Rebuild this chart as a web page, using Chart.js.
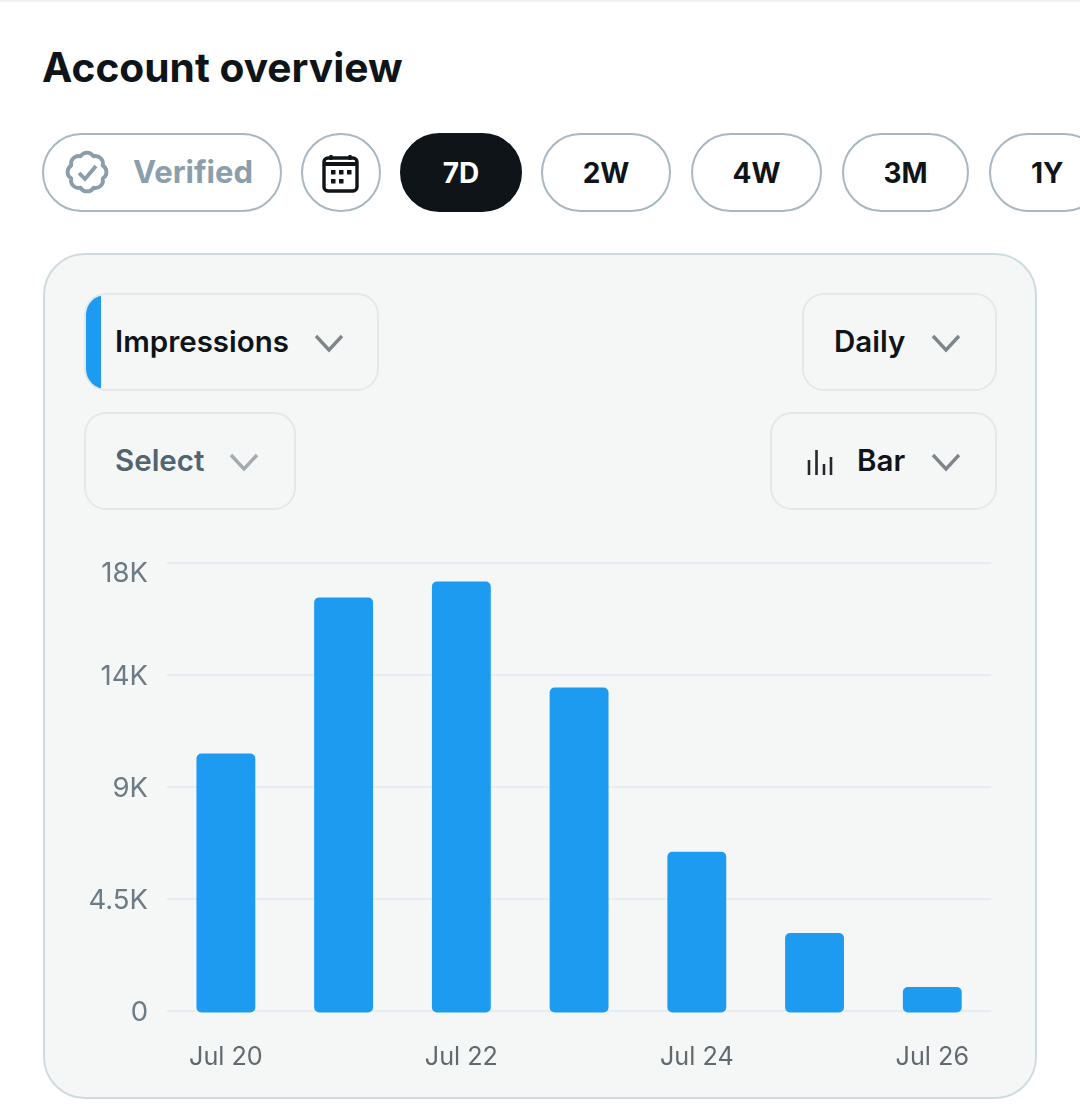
<!DOCTYPE html>
<html><head><meta charset="utf-8">
<script src="https://cdn.jsdelivr.net/npm/chart.js@4"></script>
<style>
html,body{margin:0;padding:0;background:#fff;width:1080px;height:1119px;overflow:hidden;font-family:Inter,"Noto Sans",sans-serif;color:#0f1419}
.a{position:absolute;box-sizing:border-box}
.t{position:absolute;white-space:nowrap;line-height:1;font-weight:600}
.pill{display:flex;align-items:center;justify-content:center;border:2px solid #a9b8c0;border-radius:40px;height:79px;top:133px;font-size:28px;font-weight:700}
.box{border:2px solid #e4e8ea;border-radius:22px;background:#f5f7f7;height:98px;overflow:hidden}
svg{position:absolute;overflow:visible}
.chev{fill:none;stroke:#7f868b;stroke-width:3.4}
</style></head><body>
<div class="a" style="left:0;top:0;width:1080px;height:2px;background:#eff1f2"></div>
<div class="t" style="left:42px;top:48px;font-size:40.7px;font-weight:700">Account overview</div>

<div class="a pill" style="left:42px;width:240px"></div>
<svg style="left:65px;top:150px" width="44" height="44" viewBox="0 0 44 44"><path d="M28.500 6.300A7.500 7.500 0 0 1 37.700 15.500A7.500 7.500 0 0 1 37.700 28.500A7.500 7.500 0 0 1 28.500 37.700A7.500 7.500 0 0 1 15.500 37.700A7.500 7.500 0 0 1 6.300 28.500A7.500 7.500 0 0 1 6.300 15.500A7.500 7.500 0 0 1 15.500 6.300A7.500 7.500 0 0 1 28.500 6.300Z" fill="none" stroke="#8a9dab" stroke-width="3.800" stroke-linejoin="round"/><path d="M14 23l6 6 11-13" fill="none" stroke="#8a9dab" stroke-width="3.800"/></svg>
<div class="t" style="left:133px;top:156px;font-size:31px;font-weight:700;color:#8b9eab">Verified</div>

<div class="a pill" style="left:301px;width:80px"></div>
<svg style="left:321px;top:154px" width="40" height="40" viewBox="0 0 40 40"><rect x="3" y="4" width="33" height="33" rx="4" fill="none" stroke="#0f1419" stroke-width="3.400"/><path d="M3 10h33" stroke="#0f1419" stroke-width="4"/><path d="M10 1v5M29 1v5" stroke="#0f1419" stroke-width="3"/><g fill="#0f1419"><rect x="10" y="16" width="4.500" height="4.500"/><rect x="18" y="16" width="4.500" height="4.500"/><rect x="26" y="16" width="4.500" height="4.500"/><rect x="10" y="25" width="4.500" height="4.500"/><rect x="18" y="25" width="4.500" height="4.500"/></g></svg>

<div class="a pill" style="left:400px;width:122px;background:#0f1419;border-color:#0f1419;color:#fff">7D</div>
<div class="a pill" style="left:541px;width:130px">2W</div>
<div class="a pill" style="left:691px;width:131px">4W</div>
<div class="a pill" style="left:842px;width:127px">3M</div>
<div class="a pill" style="left:989px;width:115px;justify-content:flex-start;padding-left:40px">1Y</div>

<div class="a" style="left:43px;top:253px;width:994px;height:846px;background:#f5f7f7;border:2px solid #d0dbe0;border-radius:42px"></div>

<div class="a box" style="left:84px;top:293px;width:295px"><div class="a" style="left:0;top:0;width:15px;height:100%;background:#1d9bf0"></div></div>
<div class="t" style="left:115px;top:327px;font-size:29.500px">Impressions</div>
<svg style="left:315px;top:335px" width="28" height="16"><path class="chev" d="M1 1l13 14L27 1"/></svg>

<div class="a box" style="left:802px;top:293px;width:195px"></div>
<div class="t" style="left:834px;top:327px;font-size:29.500px">Daily</div>
<svg style="left:932px;top:335px" width="28" height="16"><path class="chev" d="M1 1l13 14L27 1"/></svg>

<div class="a box" style="left:84px;top:412px;width:212px"></div>
<div class="t" style="left:115px;top:446px;font-size:29.500px;color:#536471">Select</div>
<svg style="left:230px;top:454px" width="28" height="16"><path class="chev" style="stroke:#a3abb1" d="M1 1l13 14L27 1"/></svg>

<div class="a box" style="left:770px;top:412px;width:227px"></div>
<svg style="left:807px;top:448px" width="26" height="28"><path d="M2 12v15M9.500 2v25M17 16v11M24 9v18" stroke="#25292d" stroke-width="2.600" fill="none"/></svg>
<div class="t" style="left:857px;top:446px;font-size:29.500px">Bar</div>
<svg style="left:932px;top:454px" width="28" height="16"><path class="chev" d="M1 1l13 14L27 1"/></svg>

<div class="a" style="left:72px;top:527px;width:920px;height:556px"><canvas id="c" width="920" height="556"></canvas></div>
<script>
const categories = ["Jul 20","Jul 21","Jul 22","Jul 23","Jul 24","Jul 25","Jul 26"];
const impressions = [10330,16600,17240,12980,6390,3130,960];
const tickValues = [0,4500,9000,13500,18000];
const tickLabels = ["0","4.5K","9K","14K","18K"];

const labelNudge = {
  id:'labelNudge',
  beforeDraw(chart){
    chart.scales.y.getLabelItems().forEach(it=>{
      if(!it._nudged){it.options.translation[1]+=(it.label==='18K'?11:2);it._nudged=true;}
    });
  }
};

new Chart(document.getElementById('c'),{
  type:'bar',
  plugins:[labelNudge],
  data:{labels:categories,datasets:[{data:impressions,base:-60,clip:false,backgroundColor:'#1d9bf0',borderRadius:5,borderSkipped:false,barPercentage:0.5,categoryPercentage:1}]},
  options:{
    responsive:false,animation:false,
    layout:{padding:{top:5,right:0,bottom:0,left:0}},
    plugins:{legend:{display:false},tooltip:{enabled:false}},
    scales:{
      x:{
        grid:{display:false},border:{display:false},
        afterFit(s){s.height=72;},
        ticks:{autoSkip:false,maxRotation:0,padding:23,color:'#60696f',font:{family:'Inter',size:25.2},
          callback(v,i){return i%2===0?this.getLabelForValue(v):'';}}
      },
      y:{
        min:0,max:18000,
        grid:{color:'#e6edf2',lineWidth:2,drawTicks:false},border:{display:false},
        afterFit(s){s.width=95;},
        afterBuildTicks(s){s.ticks=tickValues.map(v=>({value:v}));},
        ticks:{padding:19,color:'#6c7b85',font:{family:'Inter',size:27.5},
          callback(v){return tickLabels[tickValues.indexOf(v)];}}
      }
    }
  }
});
</script>
</body></html>
